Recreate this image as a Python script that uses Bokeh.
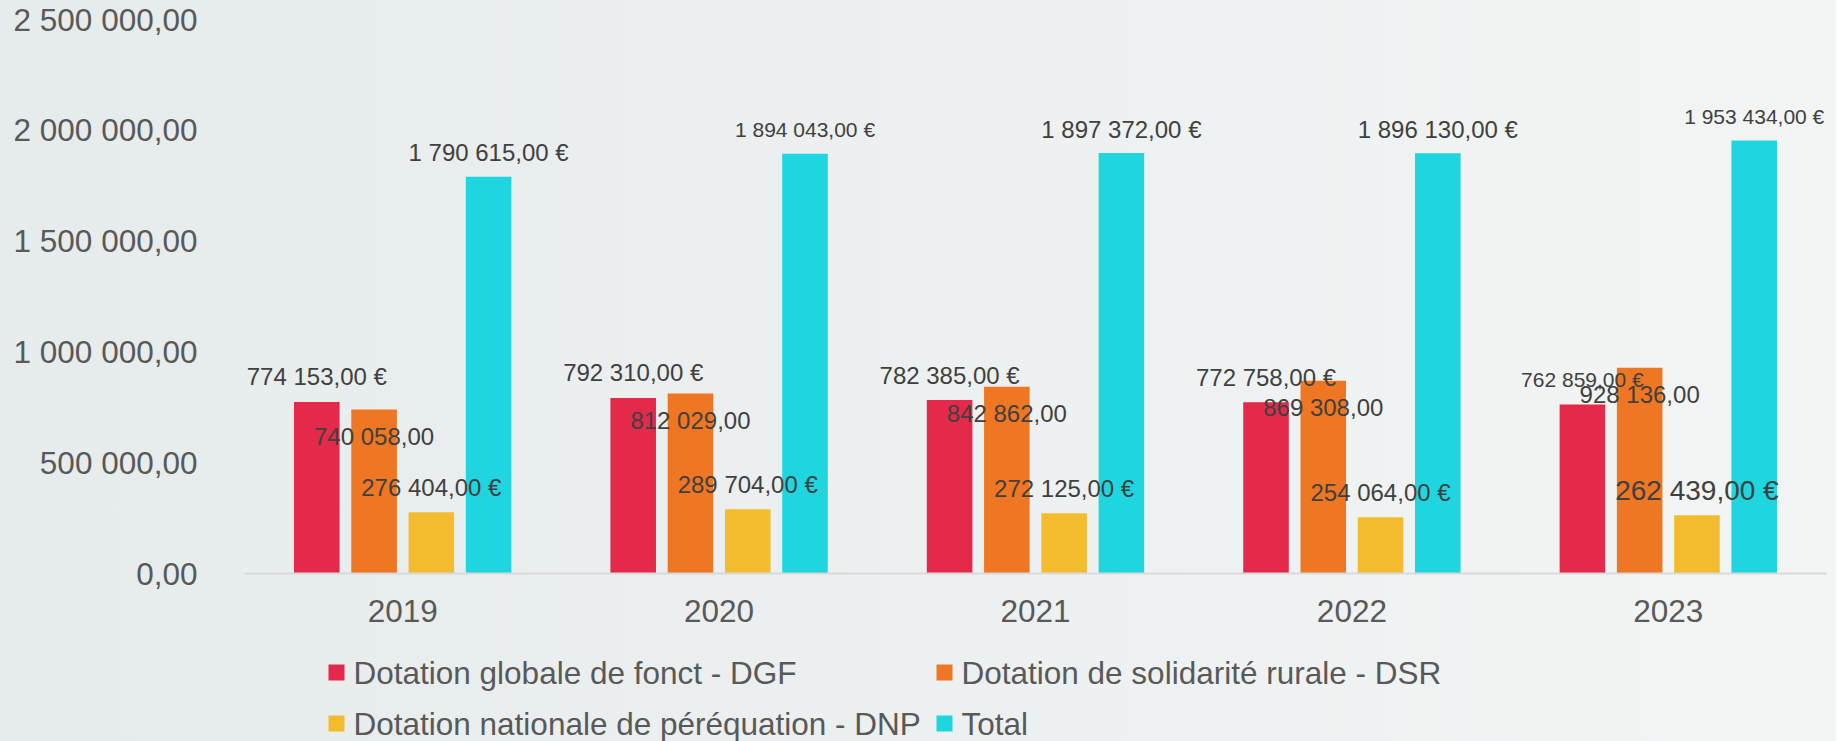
from bokeh.plotting import figure
from bokeh.layouts import column
from bokeh.models import ColumnDataSource, FactorRange, Range1d, FixedTicker
from bokeh.transform import dodge
from bokeh.core.properties import value
from bokeh.embed import file_html
from bokeh.resources import INLINE

# ---- data ----
years = ["2019", "2020", "2021", "2022", "2023"]
dgf = [774153, 792310, 782385, 772758, 762859]
dsr = [740058, 812029, 842862, 869308, 928136]
dnp = [276404, 289704, 272125, 254064, 262439]
total = [1790615, 1894043, 1897372, 1896130, 1953434]
series_names = [
    "Dotation globale de fonct - DGF",
    "Dotation de solidarité rurale - DSR",
    "Dotation nationale de péréquation - DNP",
    "Total",
]
y_ticks = [0, 500000, 1000000, 1500000, 2000000, 2500000]
y_tick_labels = ["0,00", "500 000,00", "1 000 000,00", "1 500 000,00",
                 "2 000 000,00", "2 500 000,00"]

# ---- styles ----
colors = ["#E5294B", "#EF7622", "#F3BC2E", "#1FD5DF"]
euro = [True, False, True, True]
label_sizes = [
    ["24px", "24px", "24px", "24px", "21px"],
    ["24px", "24px", "24px", "24px", "24px"],
    ["24px", "24px", "24px", "24px", "28px"],
    ["24px", "21px", "24px", "24px", "21px"],
]
label_offsets = [-25, 27, -25, -24]
step = 0.181
bar_w = 0.144
FONT = "Liberation Sans"
BG = {"background": "linear-gradient(to right, #e6ebeb, #f3f5f5)"}
W = 1836
H1 = 638
H2 = 103
FRAME_L, FRAME_R, FRAME_T, FRAME_B = 244, 1826, 19, 573
# legend layout (page pixels, legend strip rows from its top)
leg_sq_x = [336, 944, 336, 944]
leg_txt_x = [353, 961, 353, 961]
leg_y = [34, 34, 85, 85]


def fmt(v, with_euro):
    s = f"{v:,}".replace(",", " ") + ",00"
    return s + " €" if with_euro else s


p = figure(
    width=W, height=H1,
    x_range=FactorRange(*years), y_range=Range1d(0, 2500000),
    output_backend="svg", toolbar_location=None,
    min_border_left=FRAME_L, min_border_right=W - FRAME_R, min_border_top=FRAME_T,
    min_border_bottom=H1 - FRAME_B,
)
p.styles = BG
p.border_fill_alpha = 0
p.background_fill_alpha = 0
p.outline_line_color = None
p.xgrid.grid_line_color = None
p.ygrid.grid_line_color = None

src = ColumnDataSource(dict(year=years))
series = [dgf, dsr, dnp, total]
for i, vals in enumerate(series):
    key = f"s{i}"
    src.data[key] = vals
    src.data[key + "_lbl"] = [fmt(v, euro[i]) for v in vals]
    src.data[key + "_fs"] = label_sizes[i]
offs = [(-1.5 + i) * step for i in range(4)]
for i in range(4):
    key = f"s{i}"
    p.vbar(x=dodge("year", offs[i], range=p.x_range), top=key, width=bar_w,
           source=src, fill_color=colors[i], line_color=None)
for i in range(4):
    key = f"s{i}"
    p.text(x=dodge("year", offs[i], range=p.x_range), y=key, text=key + "_lbl",
           source=src, y_offset=label_offsets[i], text_align="center",
           text_baseline="middle", text_font=value(FONT),
           text_font_size=key + "_fs", text_color="#404040")

# axes
p.xaxis.axis_line_color = "#D9D9D9"
p.xaxis.axis_line_width = 2
p.xaxis.major_tick_line_color = None
p.xaxis.minor_tick_line_color = None
p.xaxis.major_tick_out = 0
p.xaxis.major_tick_in = 0
p.xaxis.major_label_text_font = FONT
p.xaxis.major_label_text_font_size = "31.5px"
p.xaxis.major_label_text_color = "#595959"
p.xaxis.major_label_standoff = 26

p.yaxis.ticker = FixedTicker(ticks=y_ticks)
p.yaxis.major_label_overrides = {t: l for t, l in zip(y_ticks, y_tick_labels)}
p.yaxis.axis_line_color = None
p.yaxis.major_tick_line_color = None
p.yaxis.minor_tick_line_color = None
p.yaxis.major_tick_out = 0
p.yaxis.major_tick_in = 0
p.yaxis.major_label_text_font = FONT
p.yaxis.major_label_text_font_size = "31.5px"
p.yaxis.major_label_text_color = "#595959"
p.yaxis.major_label_standoff = 47

# ---- legend strip (its frame is aligned with the main frame by the column) ----
p2 = figure(
    width=W, height=H2, x_range=Range1d(FRAME_L, FRAME_R), y_range=Range1d(H2, 0),
    output_backend="svg", toolbar_location=None,
    x_axis_location=None, y_axis_location=None,
    min_border_left=FRAME_L, min_border_right=W - FRAME_R, min_border_top=0,
    min_border_bottom=0,
)
p2.styles = BG
p2.border_fill_alpha = 0
p2.background_fill_alpha = 0
p2.outline_line_color = None
p2.xgrid.grid_line_color = None
p2.ygrid.grid_line_color = None
p2.rect(x=leg_sq_x, y=leg_y, width=16, height=16, fill_color=colors, line_color=None)
p2.text(x=leg_txt_x, y=leg_y, text=series_names, text_align="left",
        text_baseline="middle", text_font=value(FONT), text_font_size="31.5px",
        text_color="#595959")

layout = column(p, p2, spacing=0)
open("out.html", "w").write(file_html(layout, INLINE))
